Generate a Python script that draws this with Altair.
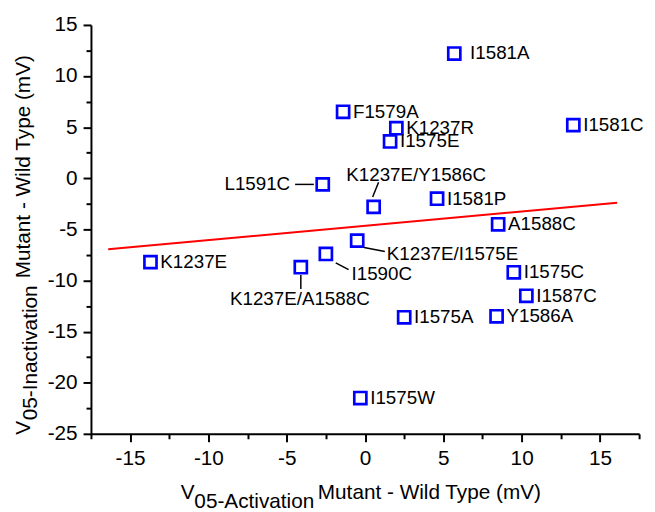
import altair as alt
import pandas as pd

# ---- data ----
mut_names = ["I1581A", "F1579A", "K1237R", "I1575E", "I1581C", "L1591C",
             "K1237E/Y1586C", "I1581P", "A1588C", "K1237E/I1575E", "I1590C",
             "K1237E/A1588C", "K1237E", "I1575W", "I1575C", "I1587C",
             "I1575A", "Y1586A"]
act_shift = [5.7, -1.4, 2.0, 1.6, 13.3, -2.7,
             0.55, 4.6, 8.5, -0.5, -2.5,
             -4.1, -13.7, -0.3, 9.5, 10.3,
             2.5, 8.4]
inact_shift = [12.2, 6.5, 4.9, 3.6, 5.2, -0.6,
               -2.8, -2.0, -4.5, -6.1, -7.4,
               -8.7, -8.2, -21.5, -9.2, -11.5,
               -13.6, -13.5]

fit_x = [-16.4, 16.1]
fit_y = [-6.95, -2.4]

x_ticks = [-17.5 + 2.5 * i for i in range(15)]
y_ticks = [-25 + 2.5 * i for i in range(17)]

FONT = "Liberation Sans"

df = pd.DataFrame({"name": mut_names, "x": act_shift, "y": inact_shift})
fit_df = pd.DataFrame({"x": fit_x, "y": fit_y})

# label styles: align, dx, dy, leader (xOffset, yOffset, x2Offset, y2Offset)
special = {
    "L1591C": ("right", -33, 0, (-28, 0, -9, 0)),
    "K1237E/Y1586C": ("center", 43, -32, (-1, -10, 5, -25)),
    "K1237E/I1575E": ("left", 30, 14, (7, 7, 28, 11)),
    "I1590C": ("left", 26, 20, (10, 9, 23, 16)),
    "K1237E/A1588C": ("center", -1, 32, (0, 8, 0, 22)),
    "I1581A": ("left", 16, 0, None),
}
default_names = [n for n in mut_names if n not in special]

x_scale = alt.Scale(domain=[-17.5, 17.5], nice=False, zero=False)
y_scale = alt.Scale(domain=[-25, 15], nice=False, zero=False)

tick_cond = {"condition": {"test": "datum.value % 5 === 0", "value": 8}, "value": 5}

def make_axis():
    return alt.Axis(title=None, grid=False,
                    labelExpr="datum.value % 5 === 0 ? '' + datum.value : ''",
                    labelOverlap=False, labelFlush=False,
                    tickSize=tick_cond, tickWidth=2, tickColor="black",
                    domainWidth=2, domainColor="black",
                    labelFont=FONT, labelFontSize=21, labelColor="black",
                    labelPadding=6)

x_axis = make_axis()
x_axis.values = x_ticks
y_axis = make_axis()
y_axis.values = y_ticks

X = alt.X("x:Q", scale=x_scale, axis=x_axis)
Y = alt.Y("y:Q", scale=y_scale, axis=y_axis)

base = alt.Chart(df)

points = base.mark_point(shape="square", filled=False, size=150,
                         strokeWidth=2.7, color="#0000ff", opacity=1).encode(x=X, y=Y)

fit = alt.Chart(fit_df).mark_line(color="#ff0000", strokeWidth=2).encode(x=X, y=Y)

default_labels = base.transform_filter(
    alt.FieldOneOfPredicate(field="name", oneOf=default_names)
).mark_text(align="left", baseline="middle", dx=10, font=FONT,
            fontSize=19, color="black").encode(x=X, y=Y, text="name:N")

layers = [points, fit, default_labels]

for nm, (al, ddx, ddy, leader) in special.items():
    sub = base.transform_filter(alt.FieldEqualPredicate(field="name", equal=nm))
    layers.append(sub.mark_text(align=al, baseline="middle", dx=ddx, dy=ddy,
                                font=FONT, fontSize=19, color="black").encode(
        x=X, y=Y, text="name:N"))
    if leader is not None:
        xo, yo, x2o, y2o = leader
        layers.append(sub.mark_rule(color="black", strokeWidth=1.5,
                                    xOffset=xo, yOffset=yo,
                                    x2Offset=x2o, y2Offset=y2o).encode(
            x=X, x2=alt.X2("x"), y=Y, y2=alt.Y2("y")))

# axis titles with subscripts
def title_piece(txt, px, py, angle=0):
    kw = dict(align="left", baseline="alphabetic", font=FONT, fontSize=21,
              color="black")
    if angle:
        kw["angle"] = angle
    return alt.Chart(alt.Data(values=[{"t": txt}])).mark_text(**kw).encode(
        x=alt.value(px), y=alt.value(py), text="t:N")

layers += [
    title_piece("V", 91, 479.7),
    title_piece("05-Activation", 104.7, 488.7),
    title_piece("Mutant - Wild Type (mV)", 229.7, 479.7),
    title_piece("V", -62, 415, 270),
    title_piece("05-Inactivation", -55, 400.3, 270),
    title_piece("Mutant - Wild Type (mV)", -62, 256.5, 270),
]

chart = alt.layer(*layers).properties(
    width=555, height=414,
    padding={"left": 84, "top": 14, "right": 8, "bottom": 76},
    autosize=alt.AutoSizeParams(type="none"),
).configure_view(strokeWidth=0)

chart.save("out.html", embed_options={"renderer": "svg", "actions": False})
